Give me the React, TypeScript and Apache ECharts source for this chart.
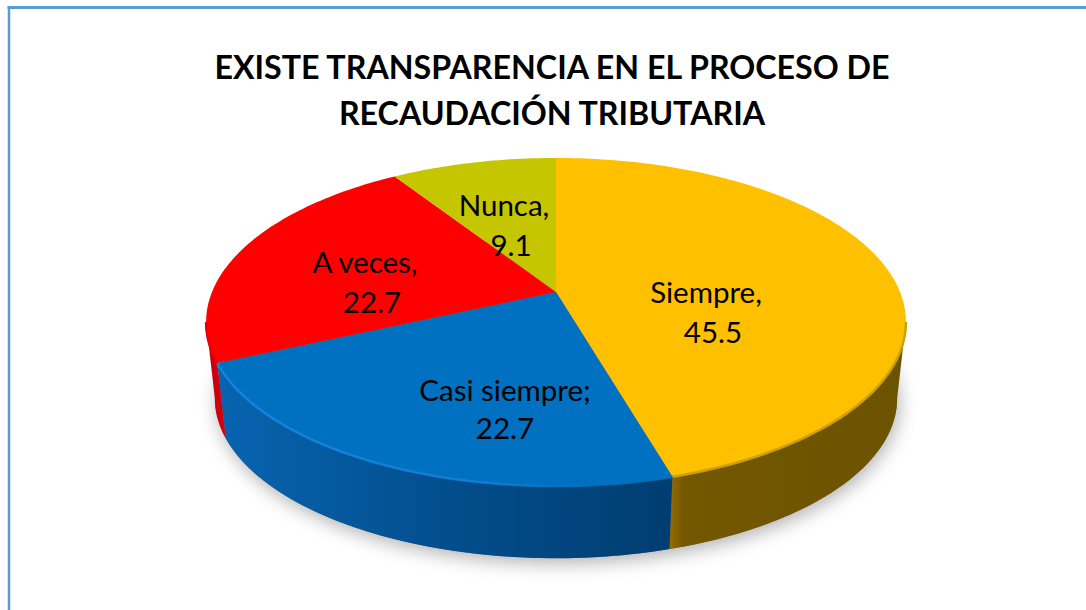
import React, { useEffect, useRef } from "react";
import * as echarts from "echarts";

const TITLE_LINES = ["EXISTE TRANSPARENCIA EN EL PROCESO DE", "RECAUDACIÓN TRIBUTARIA"];
const categories = ["Siempre", "Casi siempre", "A veces", "Nunca"];
const separators = [",", ";", ",", ","];
const values = [45.5, 22.7, 22.7, 9.1];

const topColors = ["#FFC000", "#0070C0", "#FF0000", "#C6C600"];
const rimColors = ["#CFA004", "#0070C0", "#E80008", "#C6C600"];
const sideStops: [number, string][][] = [
  [[0, "#966C00"], [0.06, "#745700"], [1, "#6C5300"]],
  [[0, "#0864B0"], [0.55, "#024C8A"], [1, "#003D70"]],
  [[0, "#C00010"], [1, "#D80010"]],
  [[0, "#8A8A00"], [1, "#8A8A00"]],
];
// label centres on screen: [x, y of first line, y of second line, first-line x shift]
const labelPlaces = [
  [713, 291, 331, -7],
  [505, 389, 427, 0],
  [372, 261, 301, -7],
  [511, 204, 244, -7],
];

const FONT = "Lato, Carlito, Calibri, sans-serif";
const TOP = { x: 556, y: 292, rx: 344, ry: 158.6, k: 0.183 };
const BOTTOM = { x: 556, y: 369, rx: 335.4, ry: 154.6, k: 0.183 };
const FRONT_START = Math.acos(-TOP.k);
const FRONT_END = Math.PI * 2 - FRONT_START;
const total = values.reduce((a, b) => a + b, 0);
const startOf = (i: number) => (values.slice(0, i).reduce((a, b) => a + b, 0) / total) * Math.PI * 2;

function project(p: typeof TOP, a: number): [number, number] {
  const u = Math.sin(a);
  const v = -Math.cos(a);
  const w = 1 - p.k * v;
  return [p.x + (p.rx * u) / w, p.y + (p.ry * v) / w];
}
function arc(p: typeof TOP, a0: number, a1: number): [number, number][] {
  const n = Math.max(4, Math.ceil(Math.abs(a1 - a0) / 0.02));
  const out: [number, number][] = [];
  for (let i = 0; i <= n; i++) out.push(project(p, a0 + ((a1 - a0) * i) / n));
  return out;
}
function hGrad(x0: number, x1: number, stops: [number, string][]) {
  return new echarts.graphic.LinearGradient(
    x0,
    0,
    x1,
    0,
    stops.map(([offset, color]) => ({ offset, color })),
    true
  );
}
const frontRange = (i: number): [number, number] | null => {
  const a0 = Math.max(startOf(i), FRONT_START);
  const a1 = Math.min(startOf(i + 1), FRONT_END);
  return a1 > a0 ? [a0, a1] : null;
};

const sideItem = (_: any, api: any) => {
  const i = api.value(0);
  const range = frontRange(i);
  if (!range) return null;
  const top = arc(TOP, range[0], range[1]);
  const bot = arc(BOTTOM, range[0], range[1]).reverse();
  const xs = top.concat(bot).map((p) => p[0]);
  return {
    type: "polygon",
    shape: { points: top.concat(bot) },
    style: { fill: hGrad(Math.min(...xs), Math.max(...xs), sideStops[i]) },
  };
};

const shadowItem = () => ({
  type: "polygon",
  shape: { points: arc(BOTTOM, 0, Math.PI * 2) },
  style: { fill: "#777", shadowBlur: 18, shadowColor: "rgba(0,0,0,0.3)", shadowOffsetX: 2, shadowOffsetY: 5 },
});

const topItem = (_: any, api: any) => {
  const i = api.value(0);
  const pts = arc(TOP, startOf(i), startOf(i + 1));
  const range = frontRange(i);
  const children: any[] = [
    {
      type: "polygon",
      shape: { points: [[TOP.x, TOP.y], ...pts] },
      style: { fill: topColors[i] },
    },
  ];
  if (range) {
    children.push({
      type: "polyline",
      shape: { points: arc(TOP, range[0], range[1]) },
      style: {
        fill: "none",
        lineWidth: 2.5,
        opacity: i === 1 ? 0.9 : 1,
        stroke:
          i === 1
            ? hGrad(220, 600, [
                [0, "#1686E0"],
                [0.65, "#1480D8"],
                [1, "#0070C0"],
              ])
            : rimColors[i],
      },
    });
  }
  return { type: "group", children };
};

const labelItem = (_: any, api: any) => {
  const i = api.value(0);
  const [x, y1, y2, dx] = labelPlaces[i];
  const text = (t: string, tx: number, ty: number) => ({
    type: "text",
    x: tx,
    y: ty,
    style: { text: t, fill: "#000", font: `29.5px ${FONT}`, align: "center", verticalAlign: "middle" },
  });
  return {
    type: "group",
    children: [text(categories[i] + separators[i], x + dx, y1), text(values[i].toFixed(1), x, y2)],
  };
};

export default function App() {
  const ref = useRef<HTMLDivElement>(null);
  useEffect(() => {
    const chart = echarts.init(ref.current!, undefined, { renderer: "svg" });
    const data = values.map((_, i) => [i]);
    chart.setOption({
      animation: false,
      backgroundColor: "#fff",
      title: {
        text: TITLE_LINES.join("\n"),
        left: 547,
        top: 38,
        textAlign: "center",
        textStyle: { fontFamily: FONT, fontWeight: "bold", fontSize: 32.2, lineHeight: 46, color: "#000" },
      },
      graphic: [
        { type: "line", shape: { x1: 7.5, y1: 7.5, x2: 1086, y2: 7.5 }, style: { stroke: "#5B9BD5", lineWidth: 3 } },
        { type: "line", shape: { x1: 9, y1: 6, x2: 9, y2: 610 }, style: { stroke: "#5B9BD5", lineWidth: 2.5 } },
      ],
      series: [
        { type: "custom", coordinateSystem: "none", renderItem: shadowItem, data: [[0]], z: 1, silent: true },
        { type: "custom", coordinateSystem: "none", renderItem: sideItem, data, z: 2, silent: true },
        { type: "custom", coordinateSystem: "none", renderItem: topItem, data, z: 3, silent: true },
        { type: "custom", coordinateSystem: "none", renderItem: labelItem, data, z: 4, silent: true },
      ],
    });
    return () => chart.dispose();
  }, []);
  return <div ref={ref} style={{ position: "fixed", left: 0, top: 0, width: 1086, height: 610 }} />;
}
